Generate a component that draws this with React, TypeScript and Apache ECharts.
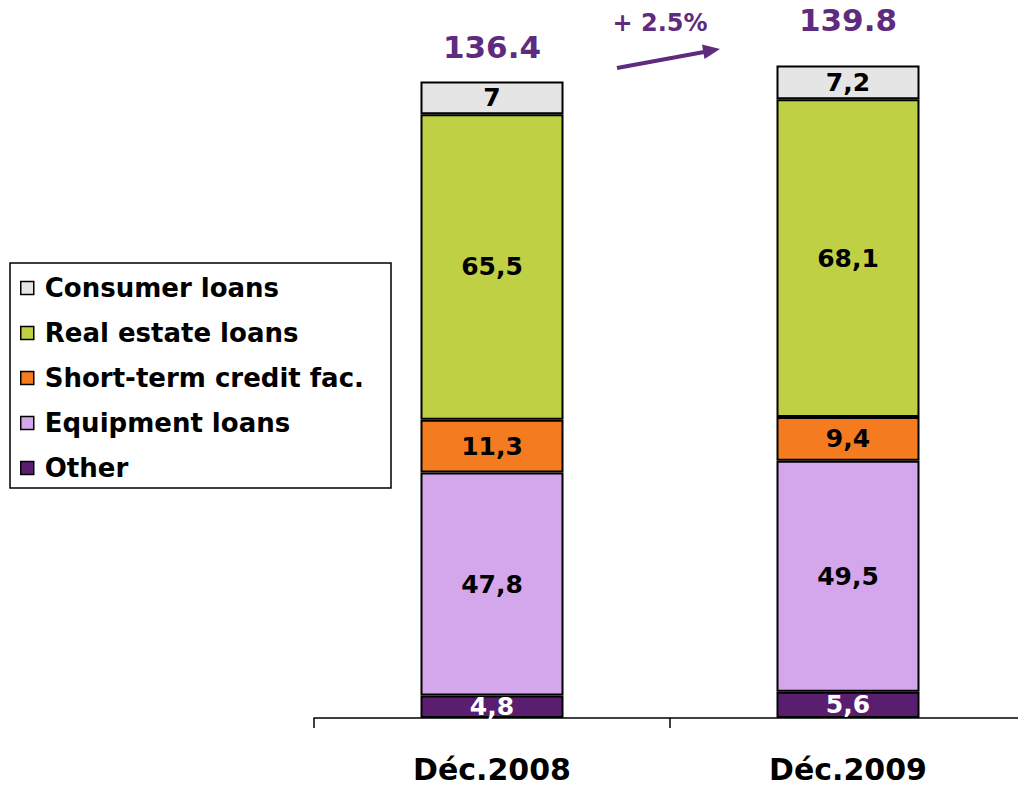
import React, { useEffect, useRef } from "react";
import * as echarts from "echarts";

const categories = ["Déc.2008", "Déc.2009"];
const other = [4.8, 5.6];
const equipment = [47.8, 49.5];
const shortTerm = [11.3, 9.4];
const realEstate = [65.5, 68.1];
const consumer = [7, 7.2];
const totals = [136.4, 139.8];
const growthLabel = "+ 2.5%";

const FONT = "DejaVu Sans";
const PURPLE = "#5E2B7E";

const fmt = (v: number) => String(v).replace(".", ",");

export default function App() {
  const ref = useRef<HTMLDivElement>(null);
  useEffect(() => {
    if (!ref.current) return;
    const chart = echarts.init(ref.current, null, { renderer: "svg" });
    const mk = (name: string, data: number[], color: string, labelColor: string) => ({
      name,
      type: "bar",
      stack: "total",
      data,
      barWidth: 143,
      itemStyle: { color, borderColor: "#000", borderWidth: 2 },
      label: {
        show: true,
        position: "inside",
        formatter: (p: any) => fmt(p.value),
        color: labelColor,
        fontFamily: FONT,
        fontWeight: "bold",
        fontSize: 25,
      },
    });
    chart.setOption({
      animation: false,
      backgroundColor: "#fff",
      grid: { left: 314, width: 712, top: 18, height: 700, containLabel: false },
      xAxis: {
        type: "category",
        data: categories,
        boundaryGap: true,
        axisLine: { lineStyle: { color: "#000", width: 1.5 } },
        axisTick: { show: true, length: 10, lineStyle: { color: "#000", width: 1.5 } },
        axisLabel: {
          margin: 36,
          color: "#000",
          fontFamily: FONT,
          fontWeight: "bold",
          fontSize: 30,
          lineHeight: 30,
        },
      },
      yAxis: { type: "value", min: 0, max: 150, show: false, splitLine: { show: false } },
      legend: {
        orient: "vertical",
        left: 20,
        top: 275,
        padding: 0,
        itemWidth: 13,
        itemHeight: 13,
        itemGap: 19,
        icon: "rect",
        data: ["Consumer loans", "Real estate loans", "Short-term credit fac.", "Equipment loans", "Other"],
        itemStyle: { borderColor: "#000", borderWidth: 1.5 },
        textStyle: {
          color: "#000",
          fontFamily: FONT,
          fontWeight: "bold",
          fontSize: 26,
          lineHeight: 26,
          padding: [0, 0, 0, 6],
        },
      },
      graphic: [
        {
          type: "rect",
          shape: { x: 10, y: 263, width: 381, height: 225 },
          style: { fill: "none", stroke: "#000", lineWidth: 1.5 },
          z: 0,
        },
        {
          type: "text",
          x: 660,
          y: 23,
          style: {
            text: growthLabel,
            fill: PURPLE,
            font: `bold 24px "${FONT}"`,
            textAlign: "center",
            textVerticalAlign: "middle",
          },
        },
        {
          type: "line",
          shape: { x1: 617, y1: 68, x2: 704, y2: 52 },
          style: { stroke: PURPLE, lineWidth: 4 },
        },
        {
          type: "polygon",
          shape: { points: [[720, 49], [704.5, 59], [702, 44.5]] },
          style: { fill: PURPLE },
        },
      ],
      series: [
        mk("Other", other, "#5A1E70", "#fff"),
        mk("Equipment loans", equipment, "#D4A7ED", "#000"),
        mk("Short-term credit fac.", shortTerm, "#F47B20", "#000"),
        mk("Real estate loans", realEstate, "#BFD045", "#000"),
        mk("Consumer loans", consumer, "#E4E5E4", "#000"),
        {
          name: "Total",
          type: "scatter",
          data: totals.map((v, i) => ({
            value: v,
            label: { distance: i === 0 ? 18 : 30 },
          })),
          symbolSize: 1,
          itemStyle: { color: "rgba(0,0,0,0)", opacity: 1 },
          z: 10,
          label: {
            show: true,
            position: "top",
            formatter: (p: any) => String(p.value),
            color: PURPLE,
            fontFamily: FONT,
            fontWeight: "bold",
            fontSize: 31,
          },
        },
      ],
    });
    return () => chart.dispose();
  }, []);
  return (
    <div
      style={{
        position: "absolute",
        left: 0,
        top: 0,
        width: 1018,
        height: 785,
        overflow: "hidden",
      }}
    >
      <div ref={ref} style={{ width: 1030, height: 785 }} />
    </div>
  );
}
